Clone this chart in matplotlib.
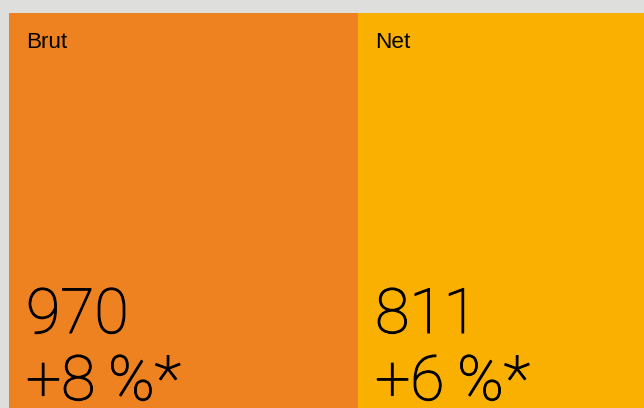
import numpy as np
import matplotlib.pyplot as plt
import matplotlib.patheffects as pe

labels = ["Brut", "Net"]
values = [970, 811]
changes = ["+8\u2009%*", "+6\u2009%*"]
colors = ["#EE8221", "#F9B000"]

fig = plt.figure(figsize=(6.44, 4.08), dpi=100, facecolor="#DEDEDC")
# treemap strip, wider than the figure (right side is cropped like the reference)
ax = fig.add_axes([9 / 644, 0, 641 / 644, 395 / 408])
ax.set_axis_off()

lefts = np.concatenate([[0], np.cumsum(values)[:-1]])
ax.barh(0, values, left=lefts, height=1, color=colors, align="edge")
ax.set_xlim(0, sum(values))
ax.set_ylim(0, 1)

# light font, thickened a little to match the reference stroke weight
big = dict(ha="left", va="baseline", fontsize=45, family=["Roboto", "DejaVu Sans"],
           fontweight="light",
           path_effects=[pe.withStroke(linewidth=0.8, foreground="black")])
for left, lab, val, chg in zip(lefts, labels, values, changes):
    ax.annotate(lab, xy=(left, 1), xytext=(17, -35), textcoords="offset pixels",
                ha="left", va="baseline", fontsize=16.2, family="Liberation Sans")
    ax.annotate(str(val), xy=(left, 1), xytext=(17, -320), textcoords="offset pixels", **big)
    ax.annotate(chg, xy=(left, 1), xytext=(17, -387), textcoords="offset pixels", **big)

fig.savefig("out.png", dpi=100, facecolor=fig.get_facecolor())
